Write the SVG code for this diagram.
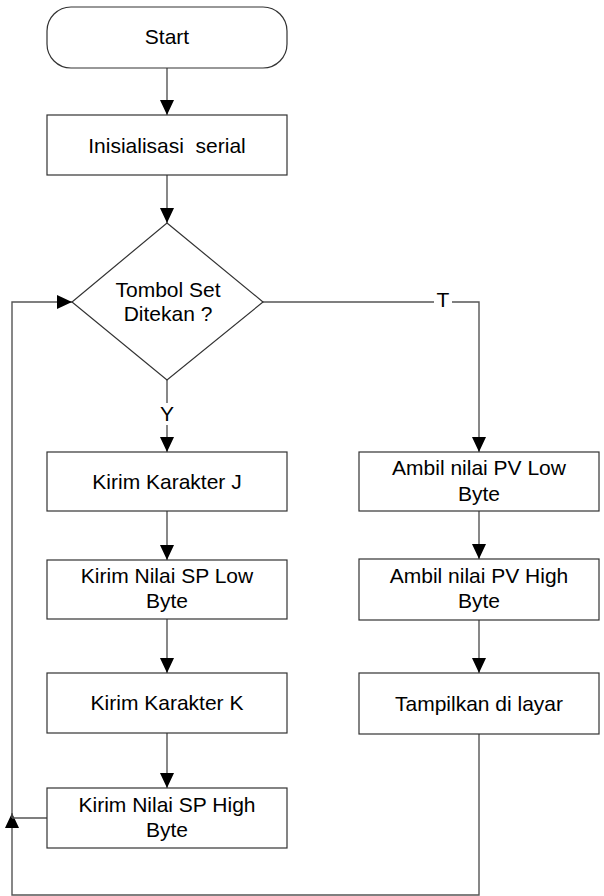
<svg xmlns="http://www.w3.org/2000/svg" width="604" height="896" viewBox="0 0 604 896">
<style>
.box{fill:#fff;stroke:#333;stroke-width:1.2}
.con{fill:none;stroke:#555;stroke-width:1.4}
.t{font-family:"Liberation Sans",Arial,sans-serif;font-size:21px;fill:#000;text-anchor:middle}
</style>
<defs>
<marker id="ah" viewBox="0 0 15 14" refX="15" refY="7" markerWidth="15" markerHeight="14" markerUnits="userSpaceOnUse" orient="auto">
<path d="M0,0 L15,7 L0,14 Z" fill="#000"/>
</marker>
</defs>
<rect width="604" height="896" fill="#fff"/>
<g id="connectors">
<path class="con" d="M167,68 L167,115" marker-end="url(#ah)"/>
<path class="con" d="M167,175 L167,223" marker-end="url(#ah)"/>
<path class="con" d="M167,380 L167,452" marker-end="url(#ah)"/>
<path class="con" d="M263,302 L479,302 L479,452" marker-end="url(#ah)"/>
<path class="con" d="M167,511 L167,560" marker-end="url(#ah)"/>
<path class="con" d="M167,619 L167,673" marker-end="url(#ah)"/>
<path class="con" d="M167,733 L167,788" marker-end="url(#ah)"/>
<path class="con" d="M479,511 L479,559" marker-end="url(#ah)"/>
<path class="con" d="M479,620 L479,673" marker-end="url(#ah)"/>
<path class="con" d="M479,734 L479,895 L12,895 L12,813" marker-end="url(#ah)"/>
<path class="con" d="M47,818 L12,818"/>
<path class="con" d="M12,818 L12,302 L72,302" marker-end="url(#ah)"/>
<rect x="157" y="403" width="20" height="22" fill="#fff"/>
<text class="t" x="167" y="421">Y</text>
<rect x="434" y="292" width="18" height="18" fill="#fff"/>
<text class="t" x="443" y="307">T</text>
</g>
<g id="start">
<rect class="box" x="47" y="7" width="240" height="61" rx="24" ry="24"/>
<text class="t" x="167" y="44">Start</text>
</g>
<g id="init">
<rect class="box" x="47" y="115" width="240" height="60"/>
<text class="t" x="167" y="153" xml:space="preserve">Inisialisasi  serial</text>
</g>
<g id="decision">
<polygon class="box" points="167,223 263,302 167,380 72,302"/>
<text class="t" x="168" y="297">Tombol Set</text>
<text class="t" x="168" y="321">Ditekan ?</text>
</g>
<g id="kirimJ">
<rect class="box" x="47" y="452" width="240" height="59"/>
<text class="t" x="167" y="489">Kirim Karakter J</text>
</g>
<g id="kirimSPLow">
<rect class="box" x="47" y="560" width="240" height="59"/>
<text class="t" x="167" y="583">Kirim Nilai SP Low</text>
<text class="t" x="167" y="608">Byte</text>
</g>
<g id="kirimK">
<rect class="box" x="47" y="673" width="240" height="60"/>
<text class="t" x="167" y="710">Kirim Karakter K</text>
</g>
<g id="kirimSPHigh">
<rect class="box" x="47" y="788" width="240" height="60"/>
<text class="t" x="167" y="812">Kirim Nilai SP High</text>
<text class="t" x="167" y="837">Byte</text>
</g>
<g id="ambilLow">
<rect class="box" x="359" y="452" width="240" height="59"/>
<text class="t" x="479" y="475">Ambil nilai PV Low</text>
<text class="t" x="479" y="501">Byte</text>
</g>
<g id="ambilHigh">
<rect class="box" x="359" y="559" width="240" height="61"/>
<text class="t" x="479" y="583">Ambil nilai PV High</text>
<text class="t" x="479" y="608">Byte</text>
</g>
<g id="tampilkan">
<rect class="box" x="359" y="673" width="240" height="61"/>
<text class="t" x="479" y="711">Tampilkan di layar</text>
</g>
</svg>
